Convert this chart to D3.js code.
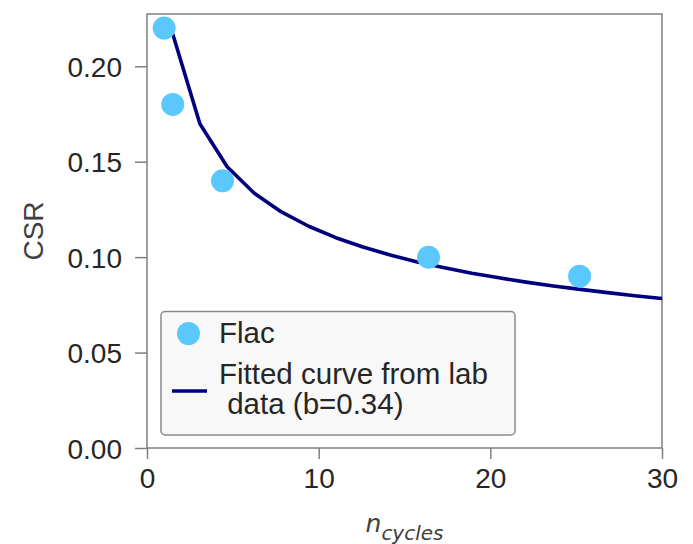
<!DOCTYPE html>
<html>
<head>
<meta charset="utf-8">
<script src="https://cdn.jsdelivr.net/npm/d3@7"></script>
<style>
  html, body { margin: 0; padding: 0; background: #fff; }
  svg { display: block; font-family: "Liberation Sans", Arial, sans-serif; }
</style>
</head>
<body>
<svg id="chart" width="693" height="544"></svg>
<script>
// Numerical model results (Flac)
const flacCycles = [1.0, 1.5, 4.4, 16.4, 25.2];
const flacCSR = [0.22, 0.18, 0.14, 0.10, 0.09];

// Fitted curve from lab data (b = 0.34), sampled points
const fitCycles = [1.5, 3.08, 4.67, 6.25, 7.83, 9.42, 11.0, 12.58, 14.17, 15.75,
                   17.33, 18.92, 20.5, 22.08, 23.67, 25.25, 26.83, 28.42, 30.0];
const fitCSR = [0.2169, 0.1699, 0.1474, 0.1335, 0.1237, 0.1162, 0.1102, 0.1053, 0.1011, 0.0975,
                0.0944, 0.0916, 0.0892, 0.0869, 0.0849, 0.0831, 0.0814, 0.0798, 0.0783];

const xTicks = [0, 10, 20, 30];
const yTicks = [0.00, 0.05, 0.10, 0.15, 0.20];
const legendLabels = ["Flac", "Fitted curve from lab", " data (b=0.34)"];

const svg = d3.select("#chart");
const margin = { left: 147, right: 31, top: 14, bottom: 96 };
const W = 693, H = 544;

const x = d3.scaleLinear().domain([0, 30]).range([margin.left, W - margin.right]);
const y = d3.scaleLinear().domain([0, 0.2274]).range([H - margin.bottom, margin.top]);

const textColor = "#262626";
const spineColor = "#7f7f7f";

// Axes
const xAxis = svg.append("g")
  .attr("transform", `translate(0,${H - margin.bottom})`)
  .call(d3.axisBottom(x).tickValues(xTicks).tickFormat(d3.format("d")).tickSizeOuter(0).tickSize(11).tickPadding(9));
const yAxis = svg.append("g")
  .attr("transform", `translate(${margin.left},0)`)
  .call(d3.axisLeft(y).tickValues(yTicks).tickFormat(d3.format(".2f")).tickSizeOuter(0).tickSize(12).tickPadding(13));

[xAxis, yAxis].forEach(a => {
  a.select(".domain").remove();
  a.selectAll(".tick line").attr("stroke", spineColor).attr("stroke-width", 1.5);
  a.selectAll(".tick text").attr("fill", textColor).style("font-size", "28px")
    .style("font-family", "'Liberation Sans', Arial, sans-serif");
});
yAxis.selectAll(".tick text").attr("dy", "0.36em");

// Frame
svg.append("rect")
  .attr("x", x(0)).attr("y", y(0.2274))
  .attr("width", x(30) - x(0)).attr("height", y(0) - y(0.2274))
  .attr("fill", "none").attr("stroke", spineColor).attr("stroke-width", 1.5);

// Fitted curve
const fitData = fitCycles.map((n, i) => ({ n, v: fitCSR[i] }));
svg.append("path")
  .datum(fitData)
  .attr("fill", "none")
  .attr("stroke", "#00007f")
  .attr("stroke-width", 3.6)
  .attr("stroke-linejoin", "round")
  .attr("d", d3.line().x(d => x(d.n)).y(d => y(d.v)));

// Flac points
const flacData = flacCycles.map((n, i) => ({ n, v: flacCSR[i] }));
svg.append("g").selectAll("circle")
  .data(flacData)
  .join("circle")
  .attr("cx", d => x(d.n))
  .attr("cy", d => y(d.v))
  .attr("r", 11.5)
  .attr("fill", "#5ac8fd");

// Legend
const lg = svg.append("g");
lg.append("rect")
  .attr("x", 161).attr("y", 311.5).attr("width", 354).attr("height", 123.5)
  .attr("rx", 4).attr("ry", 4)
  .attr("fill", "#f8f8f8").attr("stroke", "#8a8a8a").attr("stroke-width", 1.5);
lg.append("circle").attr("cx", 188.5).attr("cy", 333.5).attr("r", 11.5).attr("fill", "#5ac8fd");
lg.append("line").attr("x1", 172).attr("x2", 207).attr("y1", 391).attr("y2", 391)
  .attr("stroke", "#00007f").attr("stroke-width", 3.6);
lg.append("text").attr("x", 219).attr("y", 343).attr("fill", textColor)
  .style("font-size", "29.5px").text(legendLabels[0]);

// Two-line label for the fitted curve, kept in one text element
const fitLabel = lg.append("text").attr("x", 219).attr("y", 384).attr("fill", textColor)
  .style("font-size", "29.5px").style("white-space", "pre").attr("xml:space", "preserve");
fitLabel.append("tspan").attr("x", 219).text(legendLabels[1]);
fitLabel.append("tspan").attr("x", 219).attr("dy", 30).text(legendLabels[2]);

// Axis labels
svg.append("text")
  .attr("transform", `translate(42.5,${(y(0) + y(0.2274)) / 2}) rotate(-90)`)
  .attr("text-anchor", "middle")
  .attr("fill", "#404040")
  .style("font-size", "28px")
  .text("CSR");

const xl = svg.append("text")
  .attr("x", (x(0) + x(30)) / 2)
  .attr("y", 532)
  .attr("text-anchor", "middle")
  .attr("fill", "#404040")
  .style("font-family", "'DejaVu Sans', sans-serif");
xl.append("tspan").style("font-style", "italic").style("font-size", "25px").text("n");
xl.append("tspan").style("font-style", "italic").style("font-size", "20px").attr("dy", 8).text("cycles");
</script>
</body>
</html>
